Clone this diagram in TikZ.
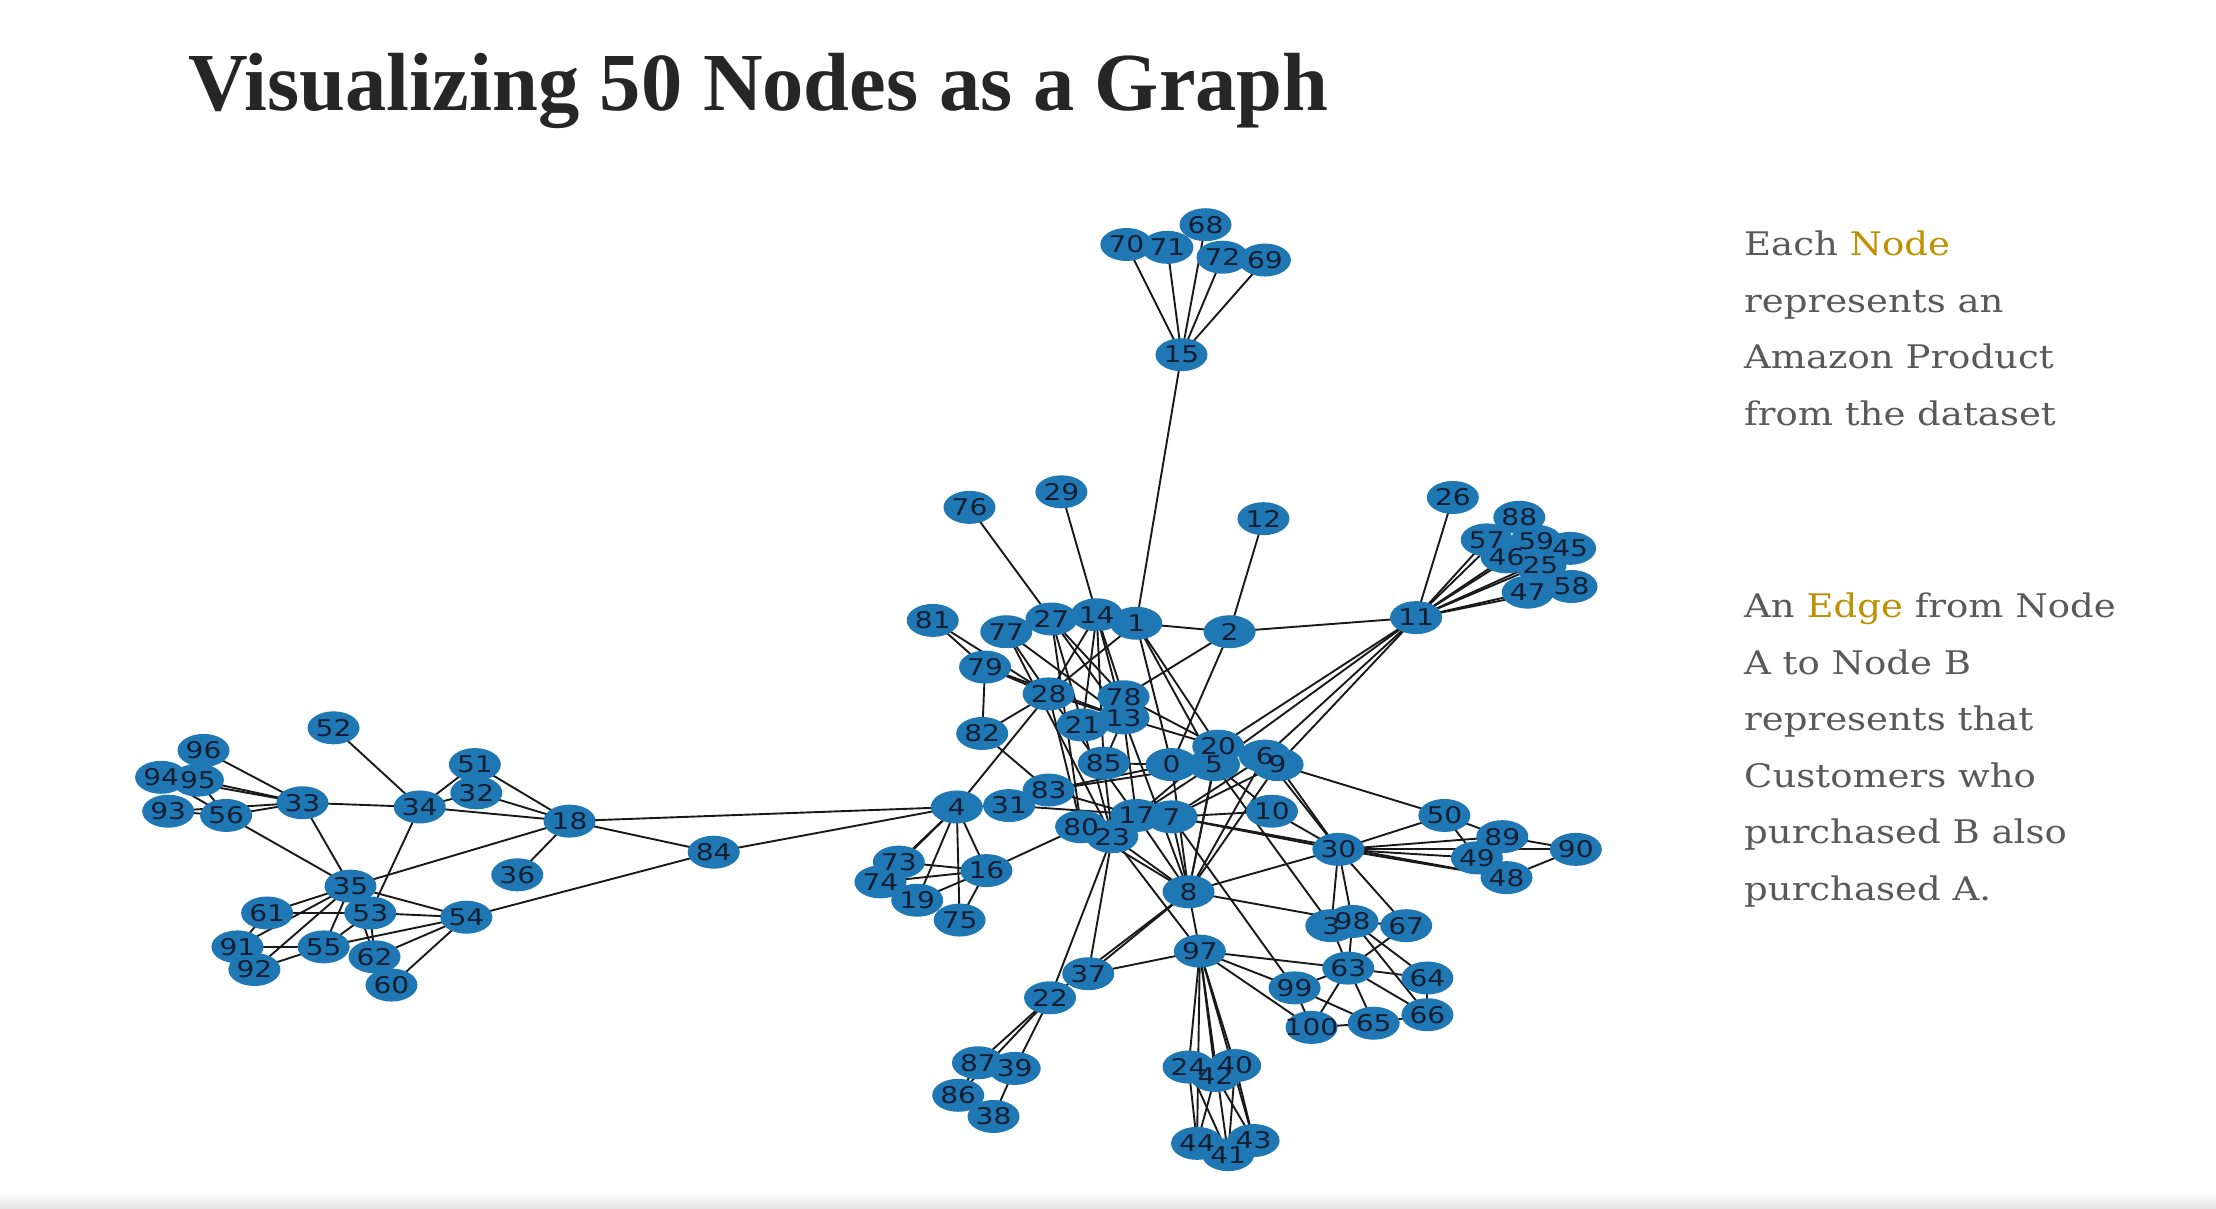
\documentclass[tikz,border=0pt]{standalone}
\usepackage{fontspec}
\setmainfont{Liberation Serif}
\newfontfamily\lblfont{DejaVu Sans}
\newfontfamily\sidefont[FakeStretch=1.14]{DejaVu Serif}
\usetikzlibrary{shapes.geometric}
\pgfdeclarelayer{edgelayer}
\pgfsetlayers{edgelayer,main}
\definecolor{nodeblue}{HTML}{1F78B4}
\definecolor{lblcol}{RGB}{20,30,50}
\definecolor{goldcol}{HTML}{BF9000}
\definecolor{sidegray}{HTML}{595959}
\definecolor{titlecol}{HTML}{262626}
\newcommand{\gl}[1]{\scalebox{1.22}[1]{#1}}
\tikzset{
  gnode/.style={ellipse, fill=nodeblue, inner sep=0pt, minimum width=52pt, minimum height=33pt},
  glabel/.style={inner sep=0pt, font=\lblfont\fontsize{23}{23}\selectfont, text=lblcol},
  gedge/.style={line width=1.9pt, black!90},
  sidetext/.style={anchor=base west, inner sep=0pt, font=\sidefont\fontsize{32.5}{32.5}\selectfont, text=sidegray}
}
\begin{document}
\begin{tikzpicture}[x=1.41327pt, y=-1.41327pt]
\useasboundingbox (0,0) rectangle (1568,855);
\shade[top color=white, bottom color=black!10] (0,843) rectangle (1568,855);
% title
\node[anchor=base west, inner sep=0pt, font=\bfseries\fontsize{82.5}{82.5}\selectfont, text=titlecol] (title) at (133,78) {Visualizing 50 Nodes as a Graph};
% side text
\node[sidetext] (s1) at (1234,181) {Each \textcolor{goldcol}{Node}};
\node[sidetext] (s2) at (1234,221) {represents an};
\node[sidetext] (s3) at (1234,261) {Amazon Product};
\node[sidetext] (s4) at (1234,301) {from the dataset};
\node[sidetext] (s5) at (1234,437) {An \textcolor{goldcol}{Edge} from Node};
\node[sidetext] (s6) at (1234,477) {A to Node B};
\node[sidetext] (s7) at (1234,517) {represents that};
\node[sidetext] (s8) at (1234,557) {Customers who};
\node[sidetext] (s9) at (1234,597) {purchased B also};
\node[sidetext] (s10) at (1234,637) {purchased A.};
% graph nodes
\foreach \n/\x/\y in {
15/836/251, 70/797/173, 71/826/175, 68/853/159, 72/865/182, 69/895/184,
76/686/359, 29/751/348, 12/894/367, 26/1028/352, 88/1075/366, 57/1052/382, 59/1087/383, 45/1111/388, 46/1066/394, 25/1090/400, 47/1081/419, 58/1112/415, 11/1002/437,
81/660/439, 77/712/447, 27/744/438, 14/776/435, 1/804/441, 2/870/447,
79/697/472, 28/742/491, 78/795/493, 13/795/508, 21/766/513, 82/695/519,
85/781/540, 0/829/541, 5/859/541, 20/862/528, 6/895/535, 9/904/541, 10/900/574,
83/742/559, 31/714/570, 4/677/571, 17/804/577, 7/829/578, 80/765/585, 23/787/592, 8/841/631,
16/698/616, 73/636/610, 74/623/624, 19/649/637, 75/679/651,
30/947/601, 50/1022/577, 89/1063/592, 90/1115/601, 49/1045/607, 48/1066/621,
3/942/655, 98/957/652, 67/995/655, 63/954/685, 64/1010/692, 99/916/699, 100/928/727, 65/972/724, 66/1010/718,
97/849/673, 37/770/689, 22/743/706, 87/692/752, 39/718/756, 86/678/775, 38/703/790,
24/841/755, 40/874/754, 42/860/761, 44/847/809, 41/869/817, 43/887/807,
84/505/603, 18/403/581, 36/366/619, 51/336/541, 32/337/561, 34/297/571, 52/236/515,
33/214/568, 96/144/531, 94/114/550, 95/140/552, 93/119/574, 56/160/577,
35/248/627, 53/262/646, 61/189/646, 54/330/649, 91/168/670, 55/229/670, 62/265/677, 92/180/686, 60/277/697}
  \node[gnode] (n\n) at (\x,\y) {};
\foreach \n in {15,70,71,68,72,69,76,29,12,26,88,57,59,45,46,25,47,58,11,81,77,27,14,1,2,79,28,78,13,21,82,85,0,5,20,6,9,10,83,31,4,17,7,80,23,8,16,73,74,19,75,30,50,89,90,49,48,3,98,67,63,64,99,100,65,66,97,37,22,87,39,86,38,24,40,42,44,41,43,84,18,36,51,32,34,52,33,96,94,95,93,56,35,53,61,54,91,55,62,92,60}
  \node[glabel] (t\n) at (n\n) {\gl{\n}};
% edges
\begin{pgfonlayer}{edgelayer}
\foreach \a/\b in {
15/70,15/71,15/68,15/72,15/69,15/1,
76/27,29/14,12/2,2/1,2/11,2/78,2/0,
11/26,11/88,11/57,11/59,11/45,11/46,11/25,11/47,11/58,11/20,11/6,11/9,11/5,
81/79,81/28,79/28,79/13,79/82,82/28,82/83,28/4,
77/28,77/13,77/23,
27/78,27/13,27/21,27/80,
14/28,14/21,14/85,14/78,14/13,
1/28,1/0,1/20,1/5,
28/13,28/80,28/17,
21/23,13/85,13/20,13/17,78/20,13/8,
85/0,85/23,
83/0,83/5,83/17,83/31,
31/7,4/31,4/18,4/84,4/73,4/74,4/19,4/75,4/16,16/73,16/74,16/19,16/75,16/80,
17/5,17/20,7/6,7/9,7/10,7/30,7/48,7/99,17/8,7/8,23/8,80/8,23/37,23/22,23/97,
8/97,8/30,8/98,8/37,8/22,
0/8,5/8,20/8,9/8,6/8,
5/3,5/10,9/30,6/30,10/30,9/50,
30/50,30/89,30/49,30/48,30/90,30/3,30/98,30/67,
50/89,50/49,89/90,48/90,
3/63,98/63,98/64,98/66,98/67,67/63,63/64,63/65,63/66,63/99,63/100,99/100,99/65,100/65,65/66,64/66,
97/63,97/99,97/100,97/37,
97/24,97/40,97/42,97/44,97/41,97/43,24/44,24/41,40/43,40/41,42/44,42/43,
22/87,22/39,22/86,87/86,39/38,
18/51,18/32,18/34,18/36,18/84,18/35,84/54,
34/51,34/32,34/52,34/33,34/53,
33/96,33/95,33/94,33/56,33/93,33/35,
56/95,56/94,56/93,56/35,
35/61,35/53,35/55,35/91,35/92,35/62,35/54,
61/53,91/61,91/55,92/55,53/54,55/54,62/54,60/54,53/62,53/55}
  \draw[gedge] (n\a.center) -- (n\b.center);
\end{pgfonlayer}
\end{tikzpicture}
\end{document}
